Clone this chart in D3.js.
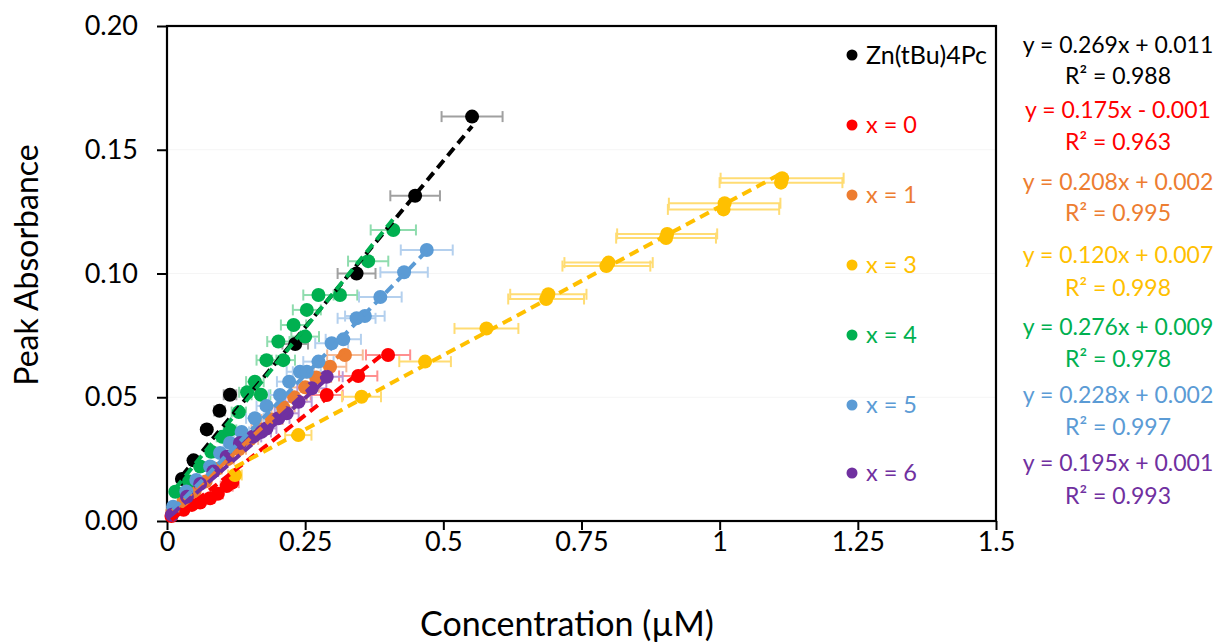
<!DOCTYPE html>
<html>
<head>
<meta charset="utf-8">
<script src="https://cdn.jsdelivr.net/npm/d3@7"></script>
<style>
  html, body { margin: 0; padding: 0; background: #fff; }
  svg { display: block; font-family: Lato, "Open Sans", sans-serif; }
</style>
</head>
<body>
<svg id="chart" width="1225" height="644"></svg>
<script>
// ---------------- data ----------------
const seriesNames = ["Zn(tBu)4Pc", "x = 0", "x = 1", "x = 3", "x = 4", "x = 5", "x = 6"];
const seriesColors = ["#000000", "#FF0000", "#ED7D31", "#FFC000", "#00B050", "#5B9BD5", "#7030A0"];
const errColors = ["#a0a0a0", "#ff8f8f", "#f6bb96", "#ffdc73", "#8fdcae", "#b4d0ee", "#bb9ad6"];

const znX = [0.027, 0.048, 0.072, 0.095, 0.114, 0.232, 0.343, 0.449, 0.552];
const znY = [0.017, 0.0245, 0.037, 0.0445, 0.051, 0.0715, 0.100, 0.1314, 0.1634];

const x0X = [0.008, 0.030, 0.045, 0.060, 0.078, 0.092, 0.108, 0.118, 0.289, 0.346, 0.400];
const x0Y = [0.002, 0.0045, 0.0065, 0.0075, 0.0092, 0.011, 0.0141, 0.0155, 0.0509, 0.0586, 0.0671];

const x1X = [0.010, 0.030, 0.050, 0.070, 0.090, 0.110, 0.130, 0.150, 0.170, 0.190, 0.210, 0.230, 0.250, 0.270, 0.295, 0.322];
const x1Y = [0.004, 0.008, 0.012, 0.016, 0.021, 0.025, 0.029, 0.033, 0.037, 0.041, 0.046, 0.050, 0.054, 0.058, 0.0623, 0.0671];

const x3X = [0.123, 0.2376, 0.352, 0.467, 0.578, 0.686, 0.690, 0.795, 0.799, 0.903, 0.905, 1.007, 1.009, 1.111, 1.113];
const x3Y = [0.0186, 0.0347, 0.0502, 0.0644, 0.0778, 0.0897, 0.0916, 0.1030, 0.1044, 0.1143, 0.1160, 0.1259, 0.1284, 0.1367, 0.1385];

const x4X = [0.015, 0.040, 0.060, 0.080, 0.100, 0.114, 0.130, 0.145, 0.159, 0.170, 0.180, 0.2015, 0.2105, 0.229, 0.250, 0.253, 0.274, 0.313, 0.364, 0.4095];
const x4Y = [0.0118, 0.016, 0.022, 0.028, 0.034, 0.0368, 0.044, 0.052, 0.0563, 0.051, 0.065, 0.0725, 0.065, 0.0792, 0.0745, 0.0853, 0.0913, 0.0913, 0.105, 0.1176];

const x5X = [0.011, 0.035, 0.053, 0.078, 0.096, 0.114, 0.135, 0.159, 0.180, 0.2045, 0.221, 0.2406, 0.253, 0.274, 0.298, 0.319, 0.343, 0.358, 0.386, 0.429, 0.470];
const x5Y = [0.0058, 0.0119, 0.0166, 0.022, 0.0275, 0.0315, 0.036, 0.0415, 0.0465, 0.0509, 0.0563, 0.0603, 0.0603, 0.0644, 0.0718, 0.0734, 0.0819, 0.0828, 0.0905, 0.1005, 0.1095];

const x6X = [0.009, 0.036, 0.060, 0.084, 0.108, 0.132, 0.155, 0.171, 0.180, 0.2015, 0.2166, 0.238, 0.262, 0.289];
const x6Y = [0.0025, 0.0098, 0.015, 0.020, 0.026, 0.0315, 0.034, 0.036, 0.0374, 0.0415, 0.0435, 0.0482, 0.0536, 0.0583];

// x error bars: percentage of x (Excel percentage error bar setting)
const xErrPercent = 10;

// trend lines as shown in the equation labels
const slopes = [0.269, 0.175, 0.208, 0.120, 0.276, 0.228, 0.195];
const intercepts = [0.011, -0.001, 0.002, 0.007, 0.009, 0.002, 0.001];
const eqLabels = ["y = 0.269x + 0.011", "y = 0.175x - 0.001", "y = 0.208x + 0.002", "y = 0.120x + 0.007",
                  "y = 0.276x + 0.009", "y = 0.228x + 0.002", "y = 0.195x + 0.001"];
const r2Labels = ["R² = 0.988", "R² = 0.963", "R² = 0.995", "R² = 0.998", "R² = 0.978", "R² = 0.997", "R² = 0.993"];

const xTicks = [0, 0.25, 0.5, 0.75, 1, 1.25, 1.5];
const yTicks = [0, 0.05, 0.10, 0.15, 0.20];
const xTitle = "Concentration (µM)";
const yTitle = "Peak Absorbance";

// ---------------- chart ----------------
const xsAll = [znX, x0X, x1X, x3X, x4X, x5X, x6X];
const ysAll = [znY, x0Y, x1Y, x3Y, x4Y, x5Y, x6Y];
const series = seriesNames.map((name, i) => ({
  name, color: seriesColors[i], err: errColors[i],
  pts: xsAll[i].map((x, j) => ({x, y: ysAll[i][j]})),
  m: slopes[i], b: intercepts[i]
}));

const svg = d3.select("#chart");
const L = 167, R = 996, T = 26, B = 521;
const x = d3.scaleLinear().domain([0, 1.5]).range([L, R]);
const y = d3.scaleLinear().domain([0, 0.2]).range([B, T]);

// faint gridlines
svg.append("g").selectAll("line").data(yTicks.slice(1, -1)).join("line")
  .attr("x1", L).attr("x2", R).attr("y1", d => y(d)).attr("y2", d => y(d))
  .attr("stroke", "#f5f5f5").attr("stroke-width", 1);

// axes
const xAxis = svg.append("g").attr("transform", `translate(0,${B})`)
  .call(d3.axisBottom(x).tickValues(xTicks).tickFormat(d3.format("")).tickSize(9).tickPadding(2));
const yAxis = svg.append("g").attr("transform", `translate(${L},0)`)
  .call(d3.axisLeft(y).tickValues(yTicks).tickFormat(d3.format(".2f")).tickSize(10).tickPadding(19));
[xAxis, yAxis].forEach(g => {
  g.select(".domain").remove();
  g.selectAll("line").attr("stroke", "#000").attr("stroke-width", 2);
  g.selectAll("text").attr("font-size", 27).attr("fill", "#000").attr("font-family", "Lato, sans-serif");
});

// plot border
svg.append("rect").attr("x", L).attr("y", T).attr("width", R - L).attr("height", B - T)
  .attr("fill", "none").attr("stroke", "#000").attr("stroke-width", 2.2);

// error bars
const eb = svg.append("g");
series.forEach(s => {
  const g = eb.append("g").attr("stroke", s.err).attr("stroke-width", 2).attr("fill", "none");
  s.pts.forEach(p => {
    const e = p.x * xErrPercent / 100;
    const x1 = x(p.x - e), x2 = x(p.x + e), yy = y(p.y);
    g.append("line").attr("x1", x1).attr("x2", x2).attr("y1", yy).attr("y2", yy);
    g.append("line").attr("x1", x1).attr("x2", x1).attr("y1", yy - 5.5).attr("y2", yy + 5.5);
    g.append("line").attr("x1", x2).attr("x2", x2).attr("y1", yy - 5.5).attr("y2", yy + 5.5);
  });
});

// points
series.forEach(s => {
  svg.append("g").selectAll("circle").data(s.pts).join("circle")
    .attr("cx", d => x(d.x)).attr("cy", d => y(d.y)).attr("r", 7).attr("fill", s.color);
});

// trend lines
series.forEach(s => {
  const [mn, mx] = d3.extent(s.pts, d => d.x);
  svg.append("line")
    .attr("x1", x(mn)).attr("y1", y(s.m * mn + s.b))
    .attr("x2", x(mx)).attr("y2", y(s.m * mx + s.b))
    .attr("stroke", s.color).attr("stroke-width", 4).attr("stroke-dasharray", "10,6");
});

// legend inside plot
const legRows = [55, 125, 195, 265, 335, 405, 473];
series.forEach((s, i) => {
  svg.append("circle").attr("cx", 852).attr("cy", legRows[i]).attr("r", 5.5).attr("fill", s.color);
  svg.append("text").attr("x", 866).attr("y", legRows[i]).attr("dy", "0.35em")
    .attr("font-size", i === 0 ? 25 : 23.5).attr("fill", s.color).text(s.name);
});

// equations outside plot
const eqRows = [45, 110, 182, 255, 327, 395, 463];
const r2Rows = [76, 142, 213, 288, 359, 427, 496];
series.forEach((s, i) => {
  svg.append("text").attr("x", 1118).attr("y", eqRows[i]).attr("dy", "0.35em").attr("text-anchor", "middle")
    .attr("font-size", 23).attr("fill", s.color).text(eqLabels[i]);
  svg.append("text").attr("x", 1118).attr("y", r2Rows[i]).attr("dy", "0.35em").attr("text-anchor", "middle")
    .attr("font-size", 23).attr("fill", s.color).text(r2Labels[i]);
});

// axis titles
svg.append("text").attr("x", 567).attr("y", 624).attr("dy", "0.35em").attr("text-anchor", "middle")
  .attr("font-size", 34).attr("fill", "#000").text(xTitle);
svg.append("text").attr("transform", "translate(27,265) rotate(-90)").attr("dy", "0.35em")
  .attr("text-anchor", "middle").attr("font-size", 32).attr("fill", "#000").text(yTitle);
</script>
</body>
</html>
